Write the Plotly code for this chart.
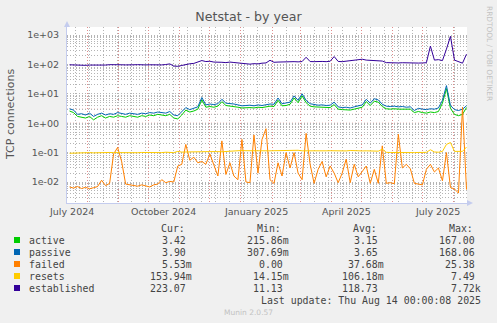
import math
import pandas as pd
import plotly.graph_objects as go

# Daily-average samples, one every 4 days, ending at the last update
dates = pd.date_range("2024-07-14", periods=100, freq="4D")

active = [
    2.6, 2.3, 1.7, 1.6, 1.5, 1.7, 1.3, 1.6, 1.8, 1.5,
    1.7, 1.6, 1.8, 1.7, 1.6, 1.8, 1.7, 1.6, 1.8, 1.7,
    1.9, 1.8, 2.0, 1.9, 1.8, 2.0, 1.5, 1.4, 1.9, 2.8,
    2.4, 2.6, 3.0, 6.2, 3.5, 3.7, 3.5, 3.8, 5.4, 4.0,
    3.9, 3.7, 3.5, 3.3, 3.4, 3.4, 3.3, 3.5, 3.4, 3.6,
    3.8, 3.7, 6.0, 3.9, 4.0, 4.4, 7.2, 5.0, 8.5, 5.0,
    3.8, 3.6, 3.5, 3.5, 3.4, 3.4, 4.3, 3.0, 2.9, 2.9,
    2.8, 3.0, 3.2, 3.5, 5.4, 4.0, 5.6, 5.2, 3.7, 3.1,
    3.0, 3.1, 3.0, 3.0, 2.9, 3.0, 2.3, 2.5, 2.3, 2.2,
    2.4, 2.3, 2.5, 4.8, 15.0, 3.2, 2.0, 1.8, 2.0, 3.42,
]
passive = [
    3.1, 2.8, 2.0, 2.1, 1.9, 2.2, 1.7, 2.0, 2.2, 1.9,
    2.1, 2.0, 2.3, 2.1, 2.0, 2.2, 2.1, 2.0, 2.2, 2.1,
    2.3, 2.2, 2.4, 2.3, 2.2, 2.5, 1.9, 1.8, 2.4, 3.4,
    2.9, 3.2, 3.6, 7.5, 4.2, 4.5, 4.3, 4.6, 6.5, 4.8,
    4.7, 4.5, 4.2, 3.9, 4.0, 4.1, 3.9, 4.2, 4.0, 4.3,
    4.5, 4.4, 7.2, 4.6, 4.8, 5.2, 8.5, 6.0, 10.0, 6.0,
    4.6, 4.3, 4.1, 4.2, 4.0, 4.1, 5.2, 3.6, 3.4, 3.5,
    3.3, 3.6, 3.8, 4.2, 6.5, 4.8, 6.8, 6.2, 4.4, 3.8,
    3.7, 3.8, 3.6, 3.7, 3.5, 3.6, 2.7, 3.2, 3.0, 2.9,
    3.1, 3.0, 3.3, 6.0, 19.0, 4.0, 2.9, 2.7, 3.0, 3.90,
]
failed = [
    0.0068, 0.0062, 0.0070, 0.0060, 0.0066, 0.0059, 0.0064, 0.0070, 0.0115, 0.0075,
    0.0090, 0.090, 0.150, 0.050, 0.0085, 0.0080, 0.0078, 0.0072, 0.0080, 0.0074,
    0.0068, 0.0080, 0.0085, 0.0120, 0.0095, 0.0105, 0.0100, 0.035, 0.040, 0.190,
    0.055, 0.070, 0.045, 0.050, 0.040, 0.090, 0.038, 0.016, 0.250, 0.018,
    0.045, 0.016, 0.012, 0.280, 0.0100, 0.0095, 0.400, 0.020, 0.280, 0.650,
    0.012, 0.0090, 0.045, 0.016, 0.100, 0.030, 0.100, 0.020, 0.012, 0.450,
    0.040, 0.0090, 0.027, 0.050, 0.015, 0.035, 0.020, 0.0095, 0.020, 0.060,
    0.0095, 0.040, 0.015, 0.022, 0.035, 0.0090, 0.027, 0.0090, 0.170, 0.0090,
    0.0095, 0.0088, 0.420, 0.030, 0.040, 0.028, 0.0090, 0.0085, 0.0080, 0.027,
    0.040, 0.022, 0.030, 0.011, 0.100, 0.0065, 0.0058, 0.0042, 3.5, 0.00553,
]
resets = [
    0.095, 0.097, 0.098, 0.100, 0.099, 0.100, 0.098, 0.100, 0.099, 0.100,
    0.101, 0.100, 0.099, 0.100, 0.102, 0.100, 0.100, 0.099, 0.101, 0.100,
    0.100, 0.100, 0.102, 0.100, 0.103, 0.101, 0.100, 0.110, 0.104, 0.105,
    0.104, 0.106, 0.105, 0.107, 0.108, 0.106, 0.110, 0.108, 0.107, 0.110,
    0.112, 0.110, 0.115, 0.118, 0.116, 0.115, 0.117, 0.115, 0.116, 0.114,
    0.115, 0.116, 0.117, 0.115, 0.114, 0.116, 0.115, 0.120, 0.115, 0.114,
    0.116, 0.115, 0.114, 0.113, 0.115, 0.116, 0.114, 0.115, 0.113, 0.114,
    0.118, 0.115, 0.113, 0.114, 0.115, 0.116, 0.114, 0.112, 0.130, 0.102,
    0.101, 0.100, 0.101, 0.100, 0.102, 0.101, 0.100, 0.101, 0.100, 0.102,
    0.125, 0.105, 0.103, 0.110, 0.190, 0.220, 0.110, 0.108, 0.110, 0.15394,
]
established = [
    97, 95, 94, 96, 93, 95, 94, 96, 97, 95,
    98, 96, 95, 97, 96, 94, 97, 98, 95, 96,
    97, 95, 98, 96, 99, 104, 88, 86, 92, 100,
    105, 108, 118, 135, 125, 128, 120, 122, 118, 115,
    120, 116, 112, 108, 104, 102, 106, 104, 110, 112,
    138, 118, 120, 122, 118, 120, 124, 122, 125, 175,
    125, 124, 128, 126, 124, 128, 185, 126, 124, 128,
    132, 135, 138, 150, 140, 136, 138, 135, 130, 115,
    112, 110, 112, 114, 112, 110, 113, 111, 112, 114,
    420, 140, 145, 135, 330, 900, 140, 122, 110, 223.07,
]

series_names = ["active", "passive", "failed", "resets", "established"]
series_colors = ["#00CC00", "#0066B3", "#FF8000", "#FFCC00", "#330099"]
series_values = [active, passive, failed, resets, established]

# Summary table (Cur / Min / Avg / Max)
col_cur = ["3.42", "3.90", "5.53m", "153.94m", "223.07"]
col_min = ["215.86m", "307.69m", "0.00", "14.15m", "11.13"]
col_avg = ["3.15", "3.65", "37.68m", "106.18m", "118.73"]
col_max = ["167.00", "168.06", "25.38", "7.49", "7.72k"]

decades = [0.01, 0.1, 1, 10, 100, 1000]
decade_text = ["1e-02", "1e-01", "1e+00", "1e+01", "1e+02", "1e+03"]
x_label_dates = ["2024-07-16", "2024-10-16", "2025-01-16", "2025-04-16", "2025-07-16"]
x_label_text = ["July 2024", "October 2024", "January 2025", "April 2025", "July 2025"]
month_starts = pd.date_range("2024-08-01", "2025-08-01", freq="MS")

X_RANGE = ["2024-07-11 12:00", "2025-08-14 12:00"]
Y_RANGE = [-2.714, 3.272]

W, H = 497, 323
L, R, T, B = 67, 467, 27, 203


def px(x):
    return (x - L) / (R - L)


def py(y):
    return (B - y) / (B - T)


SANS = "DejaVu Sans"
MONO = "DejaVu Sans Mono"
MAJOR_GRID = "#e08c8c"
MINOR_GRID = "#b4b4b4"
MAJOR_DASH = "1px,2px"
MINOR_DASH = "1px,2px"
AXIS_COL = "#c4ccee"
TEXT_COL = "#555555"

# y ticks: every 1..9 x 10^n gets a (gray) grid line, decades carry the labels
y_tick_vals, y_tick_text = [], []
for n in range(-3, 4):
    for k in range(1, 10):
        v = k * 10.0 ** n
        y_tick_vals.append(v)
        y_tick_text.append(decade_text[decades.index(10.0 ** n)] if k == 1 and 10.0 ** n in decades else "")

fig = go.Figure()
for name, vals, color in zip(series_names, series_values, series_colors):
    fig.add_trace(go.Scatter(
        x=dates, y=vals, mode="lines", name=name,
        line=dict(color=color, width=1), showlegend=False, hoverinfo="skip",
    ))

fig.update_layout(
    width=W, height=H,
    margin=dict(l=L, r=W - R, t=T, b=H - B, pad=0),
    paper_bgcolor="#f0f0f0", plot_bgcolor="#ffffff",
    title=dict(text="Netstat - by year", x=0.5, xref="container", xanchor="center",
               y=1 - 17 / H, yref="container", yanchor="middle",
               font=dict(family=SANS, size=12.6, color=TEXT_COL)),
    xaxis=dict(
        type="date", range=X_RANGE, tickmode="array", tickvals=month_starts,
        showticklabels=False, ticks="",
        showgrid=True, gridcolor=MAJOR_GRID, gridwidth=1, griddash=MAJOR_DASH,
        minor=dict(tick0="2024-07-20", dtick=14 * 86400000, showgrid=True,
                   gridcolor=MINOR_GRID, gridwidth=1, griddash=MINOR_DASH, ticks=""),
        showline=True, linecolor=AXIS_COL, linewidth=1, zeroline=False,
    ),
    yaxis=dict(
        type="log", range=Y_RANGE, tickmode="array", tickvals=y_tick_vals,
        ticktext=y_tick_text, ticks="", ticklabelstandoff=5,
        tickfont=dict(family=SANS, size=9.5, color=TEXT_COL),
        showgrid=True, gridcolor=MINOR_GRID, gridwidth=1, griddash=MINOR_DASH,
        showline=True, linecolor=AXIS_COL, linewidth=1, zeroline=False,
    ),
)

shapes = []
# decade lines on top of the gray value grid, beneath the data
for v in decades:
    shapes.append(dict(type="line", xref="paper", yref="y", x0=0, x1=1,
                       y0=math.log10(v), y1=math.log10(v), layer="between",
                       line=dict(color=MAJOR_GRID, width=1, dash=MAJOR_DASH)))

# axis arrow heads
shapes.append(dict(type="path", xref="paper", yref="paper",
                   path=f"M {px(64)} {py(T)} L {px(70)} {py(T)} L {px(67)} {py(21)} Z",
                   fillcolor=AXIS_COL, line=dict(width=0)))
shapes.append(dict(type="path", xref="paper", yref="paper",
                   path=f"M {px(R)} {py(200)} L {px(R)} {py(206)} L {px(473)} {py(B)} Z",
                   fillcolor=AXIS_COL, line=dict(width=0)))

annotations = [
    dict(text="TCP connections", x=px(11), y=py(114), xref="paper", yref="paper",
         textangle=-90, showarrow=False, xanchor="center", yanchor="middle",
         font=dict(family=SANS, size=11, color=TEXT_COL)),
    dict(text="RRDTOOL / TOBI OETIKER", x=px(490), y=py(53), xref="paper", yref="paper",
         textangle=90, showarrow=False, xanchor="center", yanchor="middle",
         font=dict(family=SANS, size=7.4, color="#c2c2c2")),
    dict(text="Munin 2.0.57", x=px(248), y=py(312), xref="paper", yref="paper",
         showarrow=False, xanchor="center", yanchor="middle",
         font=dict(family=SANS, size=7.5, color="#c2c2c2")),
]

# month labels sit mid-month under the time axis
for d, txt in zip(x_label_dates, x_label_text):
    annotations.append(dict(text=txt, x=d, xref="x", y=py(212), yref="paper",
                            showarrow=False, xanchor="center", yanchor="middle",
                            font=dict(family=SANS, size=9.5, color=TEXT_COL)))

mono = dict(family=MONO, size=9.9, color="#444444")
header_y = 228
for head, left in zip(["Cur:", "Min:", "Avg:", "Max:"], [159, 255, 351, 447]):
    annotations.append(dict(text=head, x=px(left), y=py(header_y), xref="paper", yref="paper",
                            showarrow=False, xanchor="left", yanchor="middle", font=mono))

row_y = [240, 252, 264, 276, 288]
col_right = [194, 291, 386, 483]


def cell(v):
    # unit-less values keep a blank where the SI suffix would go
    return v if v[-1].isalpha() else v + "\u00a0"


for i, name in enumerate(series_names):
    yc = row_y[i]
    shapes.append(dict(type="rect", xref="paper", yref="paper",
                       x0=px(14), x1=px(20), y0=py(yc + 3), y1=py(yc - 3),
                       fillcolor=series_colors[i], line=dict(width=0)))
    annotations.append(dict(text=name, x=px(26.5), y=py(yc), xref="paper", yref="paper",
                            showarrow=False, xanchor="left", yanchor="middle", font=mono))
    for col, right in zip([col_cur, col_min, col_avg, col_max], col_right):
        annotations.append(dict(text=cell(col[i]), x=px(right), y=py(yc), xref="paper",
                                yref="paper", showarrow=False, xanchor="right",
                                yanchor="middle", font=mono))

annotations.append(dict(text="Last update: Thu Aug 14 00:00:08 2025", x=px(483), y=py(300),
                        xref="paper", yref="paper", showarrow=False, xanchor="right",
                        yanchor="middle", font=mono))

fig.update_layout(shapes=shapes, annotations=annotations)
fig.write_html("out.html")
